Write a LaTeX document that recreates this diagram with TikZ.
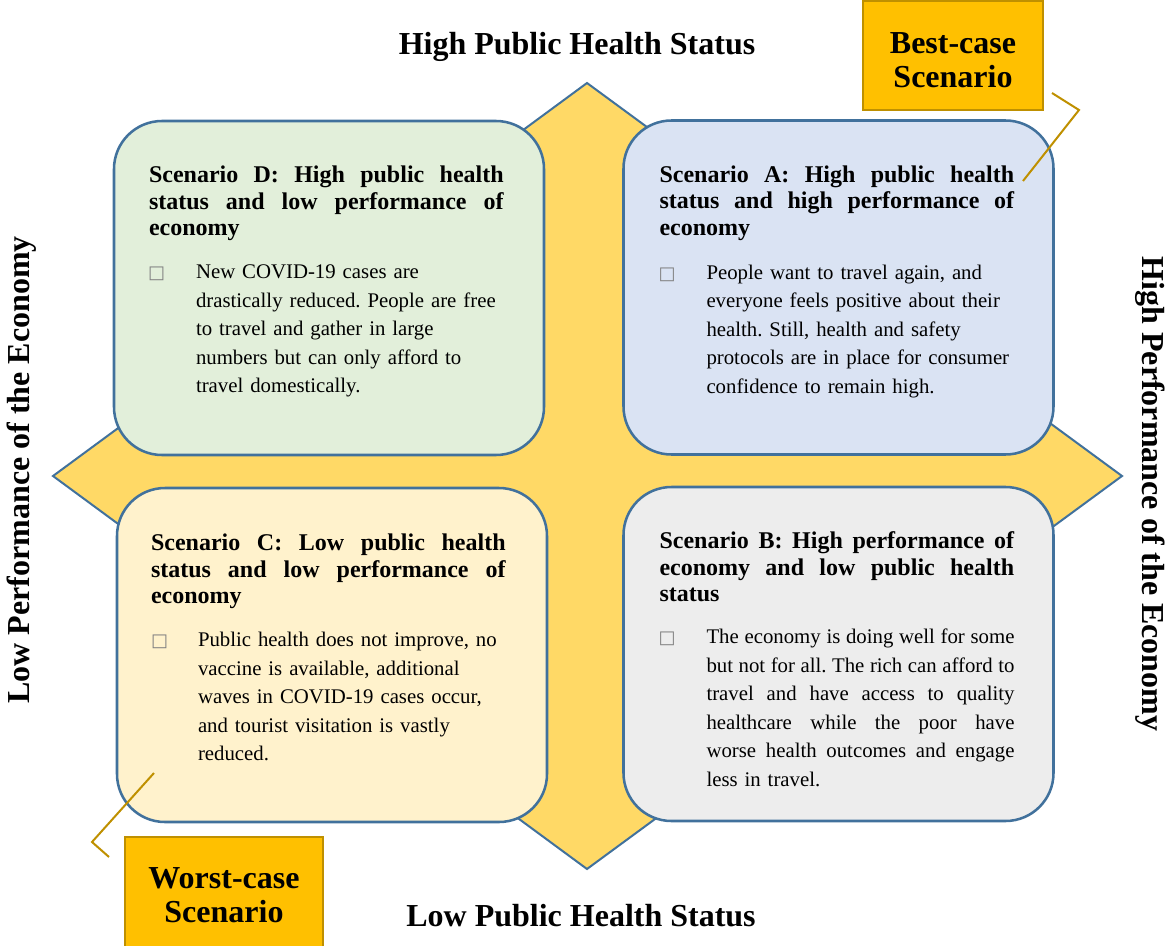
\documentclass[tikz,border=0pt]{standalone}
\usepackage{fontspec}
\setmainfont{Liberation Serif}
\newfontfamily\symfont{DejaVu Sans}
\definecolor{edgeblue}{HTML}{41719C}
\definecolor{starfill}{HTML}{FFD966}
\definecolor{fillD}{HTML}{E2EFDA}
\definecolor{fillA}{HTML}{DAE3F3}
\definecolor{fillC}{HTML}{FFF2CC}
\definecolor{fillB}{HTML}{EDEDED}
\definecolor{caseorange}{HTML}{FFC000}
\definecolor{goldedge}{HTML}{BF9000}
\newcommand{\jline}[1]{\makebox[\hsize][s]{\spaceskip=0pt\xspaceskip=0pt #1}\\}
\frenchspacing
\hyphenpenalty=10000

\begin{document}
\begin{tikzpicture}[x=0.75pt,y=-0.75pt,
  scen/.style={draw=edgeblue,line width=1.9pt,rounded corners=36pt,minimum width=322.5pt,minimum height=250.5pt,inner sep=0pt},
  head/.style={anchor=base west,inner sep=0pt,text width=266pt,align=left,font=\fontsize{18pt}{19.9pt}\selectfont\bfseries},
  body/.style={anchor=base west,inner sep=0pt,text width=231pt,align=left,font=\fontsize{15.6pt}{21.4pt}\selectfont},
  bul/.style={anchor=base west,inner sep=0pt,text=gray,font=\symfont\fontsize{13.5pt}{13.5pt}\selectfont},
  axis/.style={anchor=base,inner sep=0pt,font=\fontsize{24pt}{26pt}\selectfont\bfseries},
  casebox/.style={draw=goldedge,fill=caseorange,line width=1.5pt,inner sep=0pt},
  caselbl/.style={anchor=base,inner sep=0pt,text width=150pt,align=center,font=\fontsize{24pt}{26pt}\selectfont\bfseries},
  callout/.style={draw=goldedge,line width=1.5pt}]
\useasboundingbox (0,0) rectangle (1168,946);

\draw[fill=starfill,draw=edgeblue,line width=1.5pt] (587,83) -- (1122,476) -- (587,869) -- (53,476) -- cycle;

\node[scen,fill=fillD] (D) at (329,288) {};
\node[scen,fill=fillA] (A) at (838.5,287.5) {};
\node[scen,fill=fillC] (C) at (332,655) {};
\node[scen,fill=fillB] (B) at (838.5,654) {};

\node[head] (Dhead) at ([shift={(36,63)}]D.north west)
  {\jline{Scenario D: High public health}\jline{status and low performance of}economy};
\node[bul] (Dbul) at ([shift={(35,159)}]D.north west) {□};
\node[body] (Dbody) at ([shift={(83,159)}]D.north west)
  {New COVID-19 cases are\\ drastically reduced. People are free\\ to travel and gather in large\\ numbers but can only afford to\\ travel domestically.};

\node[head] (Ahead) at ([shift={(37,63)}]A.north west)
  {\jline{Scenario A: High public health}\jline{status and high performance of}economy};
\node[bul] (Abul) at ([shift={(36,160)}]A.north west) {□};
\node[body] (Abody) at ([shift={(84,160)}]A.north west)
  {People want to travel again, and\\ everyone feels positive about their\\ health. Still, health and safety\\ protocols are in place for consumer\\ confidence to remain high.};

\node[head] (Chead) at ([shift={(35,64)}]C.north west)
  {\jline{Scenario C: Low public health}\jline{status and low performance of}economy};
\node[bul] (Cbul) at ([shift={(35,160)}]C.north west) {□};
\node[body] (Cbody) at ([shift={(82,160)}]C.north west)
  {Public health does not improve, no\\ vaccine is available, additional\\ waves in COVID-19 cases occur,\\ and tourist visitation is vastly\\ reduced.};

\node[head] (Bhead) at ([shift={(37,63)}]B.north west)
  {\jline{Scenario B: High performance of}\jline{economy and low public health}status};
\node[bul] (Bbul) at ([shift={(36,158)}]B.north west) {□};
\node[body] (Bbody) at ([shift={(84,158)}]B.north west)
  {\jline{The economy is doing well for some}\jline{but not for all. The rich can afford to}\jline{travel and have access to quality}\jline{healthcare while the poor have}\jline{worse health outcomes and engage}less in travel.};

\node[axis] (hiphs) at (577,54) {High Public Health Status};
\node[axis] (lophs) at (581,926) {Low Public Health Status};
\node[axis,rotate=90] (loeco) at (30,470) {Low Performance of the Economy};
\node[axis,rotate=-90] (hieco) at (1142,494) {High Performance of the Economy};

\node[casebox,minimum width=135pt,minimum height=81.75pt] (best) at (953,55.5) {};
\node[caselbl] (bestlbl) at (953,53) {Best-case\\ Scenario};
\node[casebox,minimum width=148.5pt,minimum height=90pt] (worst) at (224,897) {};
\node[caselbl] (worstlbl) at (224,888) {Worst-case\\ Scenario};

\coordinate (b1) at (1052,93);
\coordinate (b2) at (1079,110);
\coordinate (b3) at (1023,181);
\draw[callout] (b1) -- (b2) -- (b3);
\coordinate (w1) at (154,773);
\coordinate (w2) at (92,842);
\coordinate (w3) at (109,857);
\draw[callout] (w1) -- (w2) -- (w3);
\end{tikzpicture}
\end{document}
